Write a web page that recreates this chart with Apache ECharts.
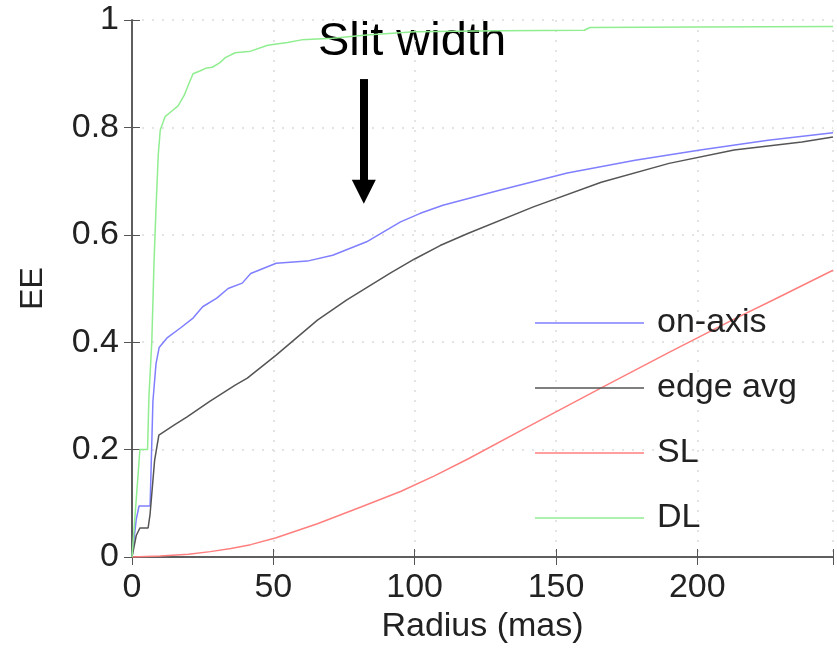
<!DOCTYPE html>
<html>
<head>
<meta charset="utf-8">
<script src="https://cdn.jsdelivr.net/npm/echarts@6/dist/echarts.min.js"></script>
<style>
  html, body { margin: 0; padding: 0; background: #fff; }
  #chart { width: 837px; height: 652px; }
</style>
</head>
<body>
<div id="chart"></div>
<script>
// radius (mas), encircled energy
var onAxis = [[0,0],[1.5,0.07],[2.5,0.095],[6.4,0.095],[7.4,0.29],[8.5,0.36],[9.6,0.39],[12.4,0.408],[17,0.426],[21.6,0.445],[25,0.466],[30,0.482],[34,0.5],[39,0.51],[42,0.528],[51,0.547],[62,0.551],[71,0.562],[83,0.587],[95,0.624],[102,0.64],[110,0.655],[130,0.683],[154,0.715],[178,0.739],[201,0.758],[225,0.776],[248,0.79]];
var edgeAvg = [[0,0],[1.5,0.04],[2.8,0.054],[5.7,0.054],[6.4,0.08],[8,0.18],[9.5,0.227],[15,0.246],[19.5,0.261],[27.5,0.29],[36.5,0.32],[40.8,0.333],[51,0.376],[65.6,0.441],[76,0.479],[91.5,0.529],[100,0.555],[109,0.58],[119,0.603],[142,0.652],[166,0.698],[190,0.733],[213,0.758],[237,0.773],[248,0.782]];
var sl = [[0,0],[10,0.002],[20,0.005],[27.7,0.01],[35,0.016],[42,0.023],[51,0.036],[65.6,0.062],[81,0.093],[95,0.122],[107,0.151],[119,0.183],[142,0.248],[166,0.315],[190,0.381],[213,0.443],[227,0.479],[248,0.534]];
var dl = [[0,0],[2.8,0.2],[5.5,0.2],[6,0.3],[7,0.4],[7.8,0.55],[8.5,0.65],[9.3,0.75],[10,0.795],[11.7,0.82],[14,0.83],[16.3,0.84],[18.5,0.86],[20,0.88],[21.6,0.9],[24,0.905],[26,0.91],[28.4,0.912],[31,0.92],[33,0.93],[36.5,0.939],[42,0.942],[48,0.953],[55,0.958],[60,0.963],[71,0.966],[83,0.972],[100,0.978],[130,0.98],[160,0.981],[162,0.986],[200,0.987],[248,0.988]];
var seriesNames = ['on-axis', 'edge avg', 'SL', 'DL'];
var arrowLine = [[82, 0.89], [82, 0.68]];

var chart = echarts.init(document.getElementById('chart'));
var font = 'Liberation Sans, Arial, sans-serif';
var axisColor = '#555';
var gridColor = '#dcdcdc';

var option = {
  animation: false,
  textStyle: { fontFamily: font },
  grid: { left: 132, right: 4, top: 20, bottom: 95 },
  xAxis: [{
    type: 'value', min: 0, max: 248, interval: 50,
    name: 'Radius (mas)', nameLocation: 'middle', nameGap: 41,
    nameTextStyle: { fontSize: 34, color: '#222', fontFamily: font },
    axisLine: { lineStyle: { color: axisColor, width: 1.5 } },
    axisTick: { inside: true, length: 8, lineStyle: { color: axisColor } },
    axisLabel: { fontSize: 34, color: '#222', margin: 14, fontFamily: font,
      formatter: function (v) { return v % 50 === 0 ? v : ''; } },
    splitLine: { show: true, lineStyle: { color: gridColor, type: [2, 8], width: 1.5 } }
  }, {
    type: 'value', min: 0, max: 248, interval: 50, position: 'top',
    axisLine: { show: true, lineStyle: { color: axisColor, width: 1.5 } },
    axisTick: { inside: true, length: 8, lineStyle: { color: axisColor } },
    axisLabel: { show: false }, splitLine: { show: false }
  }],
  yAxis: [{
    type: 'value', min: 0, max: 1, interval: 0.2,
    name: 'EE', nameLocation: 'middle', nameGap: 83,
    nameTextStyle: { fontSize: 32, color: '#222', fontFamily: font },
    axisLine: { show: true, lineStyle: { color: axisColor, width: 1.5 } },
    axisTick: { show: true, inside: true, length: 8, lineStyle: { color: axisColor } },
    axisLabel: { fontSize: 34, color: '#222', margin: 13, fontFamily: font },
    splitLine: { show: true, lineStyle: { color: gridColor, type: [2, 8], width: 1.5 } }
  }, {
    type: 'value', min: 0, max: 1, interval: 0.2, position: 'right',
    axisLine: { show: true, lineStyle: { color: axisColor, width: 1.5 } },
    axisTick: { show: true, inside: true, length: 8, lineStyle: { color: axisColor } },
    axisLabel: { show: false }, splitLine: { show: false }
  }],
  legend: {
    orient: 'vertical', left: 535, top: 303, padding: 0,
    icon: 'rect', itemWidth: 109, itemHeight: 1.5, itemGap: 25,
    textStyle: { fontSize: 34, color: '#222', lineHeight: 40, padding: [0, 0, 0, 8], fontFamily: font },
    data: seriesNames
  },
  graphic: [{
    type: 'text', left: 318, top: 19,
    style: { text: 'Slit width', fontSize: 47, fill: '#000', fontFamily: font }
  }],
  series: [
    { name: seriesNames[0], type: 'line', data: onAxis, symbol: 'none', lineStyle: { color: '#7f7fff', width: 1.5 }, itemStyle: { color: '#7f7fff' } },
    { name: seriesNames[1], type: 'line', data: edgeAvg, symbol: 'none', lineStyle: { color: '#555', width: 1.5 }, itemStyle: { color: '#555' } },
    { name: seriesNames[2], type: 'line', data: sl, symbol: 'none', lineStyle: { color: '#ff7f7f', width: 1.5 }, itemStyle: { color: '#ff7f7f' } },
    { name: seriesNames[3], type: 'line', data: dl, symbol: 'none', lineStyle: { color: '#90ee90', width: 1.5 }, itemStyle: { color: '#90ee90' },
      markLine: {
        silent: true, symbol: ['none', 'triangle'], symbolSize: [24, 24],
        label: { show: false },
        lineStyle: { color: '#000', width: 8, type: 'solid' },
        data: [[{ coord: arrowLine[0] }, { coord: arrowLine[1] }]]
      } }
  ]
};
chart.setOption(option);
</script>
</body>
</html>
